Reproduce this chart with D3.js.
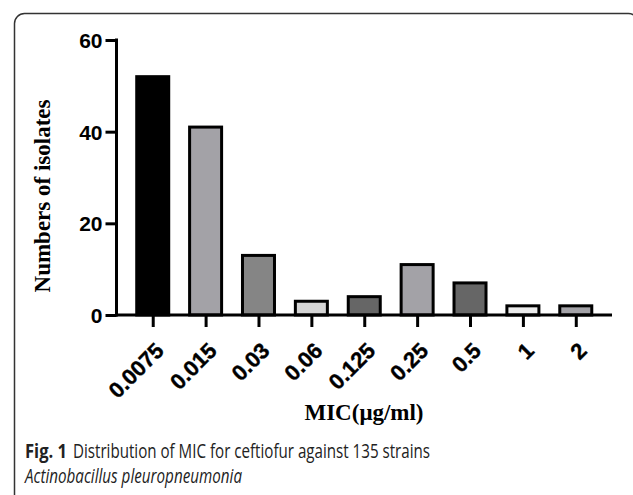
<!DOCTYPE html>
<html>
<head>
<meta charset="utf-8">
<script src="https://cdn.jsdelivr.net/npm/d3@7/dist/d3.min.js"></script>
<style>
html,body{margin:0;padding:0;background:#fff;}
svg{display:block;}
</style>
</head>
<body>
<svg id="chart" width="633" height="495"></svg>
<script>
const categories = ["0.0075","0.015","0.03","0.06","0.125","0.25","0.5","1","2"];
const counts = [52, 41, 13, 3, 4, 11, 7, 2, 2];
const barColors = ["#000000","#a3a2a7","#858585","#d4d4d4","#666666","#a3a2a7","#666666","#ebebeb","#a3a2a7"];
const yTicks = [0, 20, 40, 60];
const yTitle = "Numbers of isolates";
const xTitle = "MIC(\u03bcg/ml)";
const captionBold = "Fig. 1";
const captionLine1 = "Distribution of MIC for ceftiofur against 135 strains";
const captionLine2 = "Actinobacillus pleuropneumonia";

const svg = d3.select("#chart");

// frame
svg.append("rect")
  .attr("x", 14.5).attr("y", 13.5)
  .attr("width", 624).attr("height", 520)
  .attr("rx", 10).attr("ry", 10)
  .attr("fill", "none").attr("stroke", "#333").attr("stroke-width", 1.5);

const x0 = 116.5, x1 = 612, yBase = 315, yTop = 40;

const x = d3.scalePoint().domain(categories).range([x0, x1]).padding(0.685);
const y = d3.scaleLinear().domain([0, 60]).range([yBase, yTop]);
const barW = 32;

// bars
svg.append("g").selectAll("rect").data(counts).join("rect")
  .attr("x", (d, i) => x(categories[i]) - barW / 2)
  .attr("y", d => y(d))
  .attr("width", barW)
  .attr("height", d => y(0) - y(d))
  .attr("fill", (d, i) => barColors[i])
  .attr("stroke", "#000").attr("stroke-width", 3);

// y axis
const yAxis = d3.axisLeft(y).tickValues(yTicks).tickSize(11).tickPadding(3).tickSizeOuter(0);
const gy = svg.append("g").attr("transform", `translate(${x0},0)`).call(yAxis);
gy.select(".domain").attr("stroke", "#000").attr("stroke-width", 3).attr("d", `M0,${yTop - 1.5}V${yBase + 1.5}`);
gy.selectAll(".tick line").attr("stroke", "#000").attr("stroke-width", 3);
gy.selectAll(".tick text")
  .attr("font-family", "Liberation Sans, Arial, sans-serif")
  .attr("font-weight", "bold").attr("font-size", 21).attr("fill", "#000")
  .attr("dy", "0.36em");

// x axis
const xAxis = d3.axisBottom(x).tickSize(12).tickSizeOuter(0);
const gx = svg.append("g").attr("transform", `translate(0,${yBase})`).call(xAxis);
gx.select(".domain").attr("stroke", "#000").attr("stroke-width", 3).attr("d", `M${x0 - 1.5},0H${x1}`);
gx.selectAll(".tick line").attr("stroke", "#000").attr("stroke-width", 3);
gx.selectAll(".tick text")
  .attr("font-family", "Liberation Sans, Arial, sans-serif")
  .attr("font-weight", "bold").attr("font-size", 22).attr("fill", "#000")
  .attr("stroke", "#000").attr("stroke-width", 0.4)
  .attr("text-anchor", "end")
  .attr("dy", 0).attr("y", 0)
  .attr("transform", "translate(12,37) rotate(-45)");

// axis titles
svg.append("text")
  .attr("transform", `translate(50,196) rotate(-90)`)
  .attr("text-anchor", "middle")
  .attr("font-family", "Liberation Serif, Times New Roman, serif")
  .attr("font-weight", "bold").attr("font-size", 23).attr("fill", "#000")
  .text(yTitle);

svg.append("text")
  .attr("x", 364).attr("y", 420)
  .attr("text-anchor", "middle")
  .attr("font-family", "Liberation Serif, Times New Roman, serif")
  .attr("font-weight", "bold").attr("font-size", 23).attr("fill", "#000")
  .text(xTitle);

// caption
const capFont = "Open Sans, Noto Sans, sans-serif";
svg.append("text")
  .attr("x", 25).attr("y", 458)
  .attr("font-family", capFont).attr("font-weight", "bold").attr("font-size", 20).attr("fill", "#222")
  .attr("textLength", 42).attr("lengthAdjust", "spacingAndGlyphs")
  .text(captionBold);
svg.append("text")
  .attr("x", 73).attr("y", 458)
  .attr("font-family", capFont).attr("font-size", 20).attr("fill", "#222")
  .attr("textLength", 357).attr("lengthAdjust", "spacingAndGlyphs")
  .text(captionLine1);
svg.append("text")
  .attr("x", 25).attr("y", 483)
  .attr("font-family", capFont).attr("font-style", "italic").attr("font-size", 20).attr("fill", "#222")
  .attr("textLength", 217).attr("lengthAdjust", "spacingAndGlyphs")
  .text(captionLine2);
</script>
</body>
</html>
